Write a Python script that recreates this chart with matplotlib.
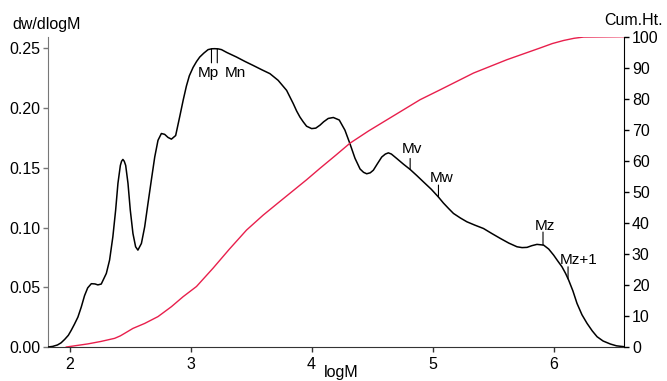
import matplotlib
matplotlib.use("Agg")
import matplotlib.pyplot as plt
import numpy as np

# dw/dlogM distribution (black)
log_m = [1.82, 1.86, 1.90, 1.93, 1.96, 1.99, 2.014, 2.04, 2.069, 2.097,
         2.124, 2.15, 2.18, 2.21, 2.234, 2.262, 2.304, 2.331, 2.358, 2.381,
         2.400, 2.420, 2.430, 2.441, 2.452, 2.464, 2.483, 2.502, 2.524, 2.546,
         2.565, 2.594, 2.621, 2.648, 2.676, 2.704, 2.731, 2.759, 2.786, 2.814,
         2.842, 2.877, 2.911, 2.94, 2.966, 2.99, 3.021, 3.05, 3.076, 3.11,
         3.145, 3.175, 3.200, 3.23, 3.256, 3.30, 3.38, 3.45, 3.517, 3.59,
         3.656, 3.724, 3.794, 3.849, 3.877, 3.904, 3.931, 3.959, 4.001, 4.035,
         4.07, 4.10, 4.138, 4.180, 4.229, 4.276, 4.318, 4.359, 4.401, 4.43,
         4.456, 4.485, 4.511, 4.545, 4.580, 4.61, 4.635, 4.66, 4.704, 4.76,
         4.815, 4.87, 4.925, 4.99, 5.049, 5.09, 5.132, 5.173, 5.23, 5.284,
         5.35, 5.421, 5.49, 5.560, 5.63, 5.698, 5.74, 5.781, 5.82, 5.863,
         5.918, 5.96, 6.001, 6.035, 6.070, 6.10, 6.125, 6.16, 6.194, 6.235,
         6.277, 6.32, 6.36, 6.41, 6.47, 6.52, 6.58]
dw_dlogm = [0.0, 0.0005, 0.0017, 0.0035, 0.0064, 0.0098, 0.014, 0.019, 0.025, 0.0335,
            0.043, 0.0495, 0.053, 0.0528, 0.052, 0.0527, 0.0616, 0.0728, 0.0923, 0.1146,
            0.137, 0.152, 0.1555, 0.157, 0.1555, 0.152, 0.137, 0.1146, 0.095, 0.0839,
            0.0811, 0.0867, 0.1006, 0.120, 0.1397, 0.159, 0.173, 0.1787, 0.178, 0.1754,
            0.174, 0.177, 0.193, 0.207, 0.2185, 0.227, 0.234, 0.239, 0.2427, 0.246,
            0.2489, 0.2496, 0.2497, 0.2495, 0.2489, 0.2465, 0.2427, 0.239, 0.2357, 0.232,
            0.2288, 0.2232, 0.2148, 0.2037, 0.1975, 0.1925, 0.1885, 0.1848, 0.1828, 0.1832,
            0.1857, 0.1885, 0.1913, 0.1921, 0.190, 0.1815, 0.170, 0.158, 0.149, 0.1462,
            0.145, 0.1458, 0.148, 0.1535, 0.159, 0.1615, 0.1625, 0.1615, 0.1578, 0.153,
            0.1486, 0.1435, 0.1382, 0.132, 0.1255, 0.1205, 0.116, 0.1118, 0.108, 0.1048,
            0.102, 0.0992, 0.095, 0.0909, 0.087, 0.0839, 0.0832, 0.0834, 0.0848, 0.0859,
            0.0853, 0.082, 0.0769, 0.072, 0.0671, 0.0615, 0.056, 0.047, 0.0365, 0.027,
            0.0198, 0.0135, 0.0086, 0.005, 0.0025, 0.001, 0.0003]

# cumulative height (red, right axis)
cum_log_m = [1.973, 2.151, 2.26, 2.373, 2.42, 2.455, 2.524, 2.621, 2.731, 2.842,
             2.938, 3.049, 3.186, 3.32, 3.463, 3.60, 3.738, 3.959, 4.07, 4.20,
             4.318, 4.47, 4.622, 4.897, 5.063, 5.339, 5.615, 5.891, 5.99, 6.084,
             6.17, 6.249, 6.58]
cum_height = [0, 1.0, 1.8, 2.8, 3.6, 4.4, 6.0, 7.6, 9.8, 13.0,
              16.2, 19.5, 25.4, 31.5, 37.7, 42.5, 46.9, 53.9, 57.6, 61.8,
              65.7, 69.6, 73.2, 79.7, 82.9, 88.3, 92.6, 96.4, 97.8, 98.8,
              99.5, 99.9, 100]

marker_names = ["Mp", "Mn", "Mv", "Mw", "Mz", "Mz+1"]
marker_log_m = [3.173, 3.221, 4.815, 5.049, 5.913, 6.120]

x_ticks = [2, 3, 4, 5, 6]
left_ticks = [0.00, 0.05, 0.10, 0.15, 0.20, 0.25]
right_ticks = [0, 10, 20, 30, 40, 50, 60, 70, 80, 90, 100]

# label placement in pixels: (text dx, text baseline dy, tick length)
marker_layout = {
    "Mp": (-14, -28.5, -14),
    "Mn": (7, -28.5, -14),
    "Mv": (-8.5, 16, 11),
    "Mw": (-8.5, 15, 12),
    "Mz": (-8.5, 15.5, 13),
    "Mz+1": (-8.5, 15, 12),
}

plt.rcParams['font.family'] = ['Liberation Sans', 'DejaVu Sans']
RED = '#e81f4c'

fig = plt.figure(figsize=(6.67, 3.81), dpi=100)
ax = fig.add_axes([0.0727, 0.0892, 0.8633, 0.8144])
ax2 = ax.twinx()

ax.plot(log_m, dw_dlogm, color='black', lw=1.1, zorder=3,
        solid_joinstyle='round', solid_capstyle='round')
ax2.plot(cum_log_m, cum_height, color=RED, lw=1.0, solid_joinstyle='round')

ax.set_xlim(1.826, 6.585)
ax.set_ylim(0, 0.2597)
ax2.set_ylim(0, 100)

ax.set_xticks(x_ticks)
ax.set_yticks(left_ticks)
ax.set_yticklabels([f"{v:.2f}" for v in left_ticks])
ax2.set_yticks(right_ticks)

for a in (ax, ax2):
    a.spines['top'].set_visible(False)
ax.spines['right'].set_visible(False)
ax2.spines['left'].set_visible(False)
ax2.spines['bottom'].set_visible(False)
ax.spines['left'].set_color('#777777')
ax.spines['bottom'].set_color('#333333')
ax2.spines['right'].set_color('black')

ax.tick_params(axis='y', colors='#777777', labelcolor='black', length=3.5, width=1, pad=2, labelsize=11.5)
ax.tick_params(axis='x', colors='#333333', labelcolor='black', length=3.5, width=1, pad=4, labelsize=11.5)
ax2.tick_params(axis='y', colors='black', length=3.5, width=1, pad=2, labelsize=11.5)

for name, m in zip(marker_names, marker_log_m):
    y = np.interp(m, log_m, dw_dlogm)
    dx, dy, tick = marker_layout[name]
    ax.annotate('', xy=(m, y), xytext=(0, tick), textcoords='offset pixels',
                arrowprops=dict(arrowstyle='-', lw=0.8, color='black', shrinkA=0, shrinkB=0))
    ax.annotate(name, xy=(m, y), xytext=(dx, dy), textcoords='offset pixels',
                ha='left', va='baseline', fontsize=11,
                family=['Liberation Sans Narrow', 'Liberation Sans'])

fig.text(12.7 / 667, 1 - 29.3 / 381, "dw/dlogM", fontsize=11.5, va='baseline', ha='left')
fig.text(663 / 667, 1 - 25 / 381, "Cum.Ht.", fontsize=11.5, va='baseline', ha='right')
fig.text(341.5 / 667, 1 - 377 / 381, "logM", fontsize=11.5, va='baseline', ha='center')

fig.savefig("out.png", dpi=100)
plt.close(fig)
